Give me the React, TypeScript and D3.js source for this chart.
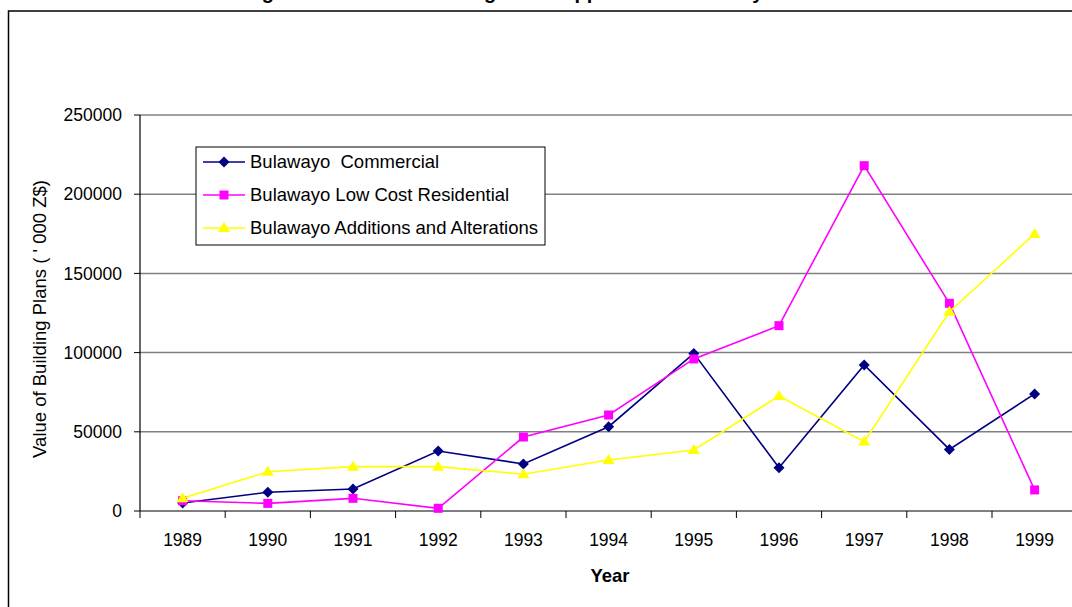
import React from "react";
import * as d3 from "d3";

// Years on the category axis
const years = ["1989", "1990", "1991", "1992", "1993", "1994", "1995", "1996", "1997", "1998", "1999"];

// Value of building plans ('000 Z$) per series
const commercial = [5000, 11800, 13900, 37900, 29700, 53200, 99500, 27300, 92200, 38900, 73900];
const lowCost = [6500, 4800, 8000, 1700, 46700, 60600, 96000, 117000, 218000, 131100, 13300];
const additions = [8000, 24800, 28000, 28000, 23200, 32200, 38500, 72600, 43800, 125800, 174900];

const yTicks = [0, 50000, 100000, 150000, 200000, 250000];

const seriesNames = [
  "Bulawayo  Commercial",
  "Bulawayo Low Cost Residential",
  "Bulawayo Additions and Alterations",
];

const titleText = "Figure 1: Value of Building Plans Approved in Bulawayo";

type Series = { name: string; values: number[]; color: string; marker: "diamond" | "square" | "triangle" };

const series: Series[] = [
  { name: seriesNames[0], values: commercial, color: "#000080", marker: "diamond" },
  { name: seriesNames[1], values: lowCost, color: "#FF00FF", marker: "square" },
  { name: seriesNames[2], values: additions, color: "#FFFF00", marker: "triangle" },
];

const FONT = "'Liberation Sans', Arial, Helvetica, sans-serif";

function Marker({ kind, x, y, color }: { kind: Series["marker"]; x: number; y: number; color: string }) {
  if (kind === "diamond") {
    const r = 5.5;
    return <path d={`M${x},${y - r}L${x + r},${y}L${x},${y + r}L${x - r},${y}Z`} fill={color} />;
  }
  if (kind === "square") {
    const s = 9;
    return <rect x={x - s / 2} y={y - s / 2} width={s} height={s} fill={color} />;
  }
  const h = 10;
  const w = 12;
  return <path d={`M${x},${y - h * 0.6}L${x + w / 2},${y + h * 0.4}L${x - w / 2},${y + h * 0.4}Z`} fill={color} />;
}

export default function App() {
  const width = 1072;
  const height = 607;
  const left = 140;
  const bandW = 85.2;
  const right = left + bandW * years.length;
  const top = 115;
  const bottom = 511;

  const x = d3.scaleBand<string>().domain(years).range([left, right]);
  const y = d3.scaleLinear().domain([0, 250000]).range([bottom, top]);
  const cx = (yr: string) => (x(yr) ?? 0) + x.bandwidth() / 2;

  const line = d3
    .line<number>()
    .x((_, i) => cx(years[i]))
    .y((v) => y(v));

  const legend = { x: 196, y: 147, w: 349, h: 98 };
  const legendRows = [162, 195, 228];

  return (
    <svg
      width={width}
      height={height}
      style={{ position: "fixed", left: 0, top: 0, background: "#fff" }}
      fontFamily={FONT}
    >
      <rect x={0} y={0} width={width} height={height} fill="#fff" />
      {/* Title, sitting mostly above the top edge */}
      <text x={244} y={-1} fontSize={20} fontWeight="bold" fill="#000">
        {titleText}
      </text>
      {/* Chart frame */}
      <rect x={8.5} y={11} width={1090} height={620} fill="none" stroke="#000" strokeWidth={1.5} />

      {/* Gridlines */}
      {yTicks
        .filter((t) => t > 0)
        .map((t) => (
          <line key={t} x1={left} x2={right} y1={y(t)} y2={y(t)} stroke="#808080" strokeWidth={1.5} />
        ))}

      {/* Y axis */}
      <line x1={left} x2={left} y1={top} y2={bottom} stroke="#000" strokeWidth={1.2} />
      {yTicks.map((t) => (
        <g key={t}>
          <line x1={left - 6} x2={left} y1={y(t)} y2={y(t)} stroke="#000" strokeWidth={1} />
          <text x={left - 18} y={y(t)} dy="0.35em" textAnchor="end" fontSize={17.5} fill="#000">
            {t}
          </text>
        </g>
      ))}

      {/* X axis */}
      <line x1={left} x2={right} y1={bottom} y2={bottom} stroke="#000" strokeWidth={1.2} />
      {years.map((yr) => (
        <g key={yr}>
          <line x1={x(yr)} x2={x(yr)} y1={bottom} y2={bottom + 7} stroke="#000" strokeWidth={1} />
          <text x={cx(yr)} y={546} textAnchor="middle" fontSize={17.5} fill="#000">
            {yr}
          </text>
        </g>
      ))}

      {/* Axis titles */}
      <text x={610} y={582} textAnchor="middle" fontSize={18.5} fontWeight="bold" fill="#000">
        Year
      </text>
      <text
        transform="translate(46,319) rotate(-90)"
        textAnchor="middle"
        fontSize={18.5}
        fill="#000"
        style={{ whiteSpace: "pre" }}
      >
        Value of Building Plans ( ' 000 Z$)
      </text>

      {/* Series */}
      {series.map((s) => (
        <g key={s.name}>
          <path d={line(s.values) ?? ""} fill="none" stroke={s.color} strokeWidth={1.6} />
          {s.values.map((v, i) => (
            <Marker key={i} kind={s.marker} x={cx(years[i])} y={y(v)} color={s.color} />
          ))}
        </g>
      ))}

      {/* Legend */}
      <rect x={legend.x} y={legend.y} width={legend.w} height={legend.h} fill="#fff" stroke="#000" strokeWidth={1} />
      {series.map((s, i) => (
        <g key={s.name}>
          <line x1={203} x2={245} y1={legendRows[i]} y2={legendRows[i]} stroke={s.color} strokeWidth={1.6} />
          <Marker kind={s.marker} x={224} y={legendRows[i]} color={s.color} />
          <text x={250} y={legendRows[i]} dy="0.35em" fontSize={18.5} fill="#000" style={{ whiteSpace: "pre" }}>
            {s.name}
          </text>
        </g>
      ))}
    </svg>
  );
}
